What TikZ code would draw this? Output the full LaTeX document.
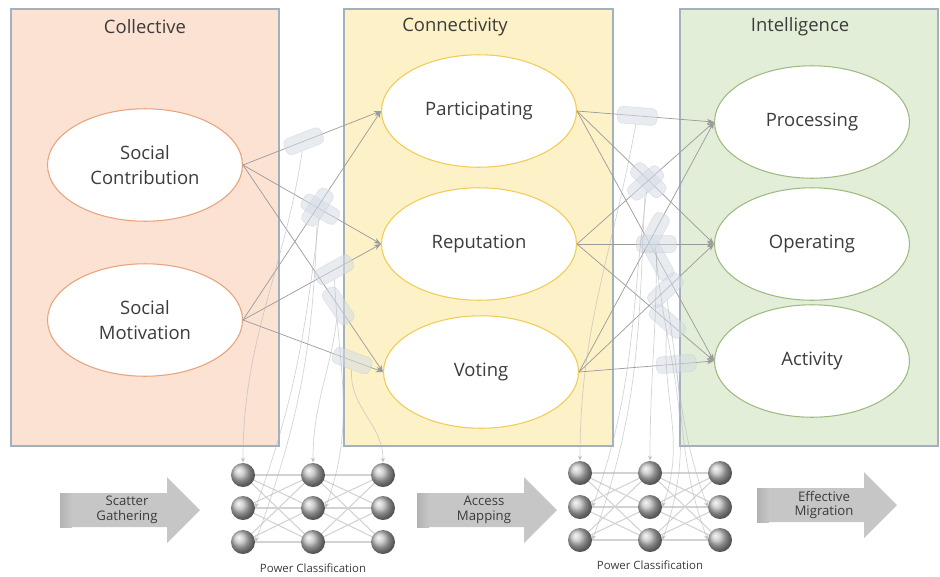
\documentclass[tikz,border=0pt]{standalone}
\usepackage{fontspec}
\setmainfont{Open Sans}
\usetikzlibrary{shapes.geometric,arrows.meta}

\definecolor{collfill}{HTML}{FBE2D3}
\definecolor{collline}{HTML}{E9A27A}
\definecolor{connfill}{HTML}{FDF1C7}
\definecolor{connline}{HTML}{F2CB55}
\definecolor{intfill}{HTML}{E2EED8}
\definecolor{intline}{HTML}{9DBB80}
\definecolor{boxline}{HTML}{A3B1BE}
\definecolor{linkgray}{HTML}{9A9A9A}
\definecolor{pillblue}{HTML}{D5DCE6}
\definecolor{flowgray}{HTML}{C6C6C6}
\definecolor{textgray}{HTML}{3C3C3C}

\begin{document}
\begin{tikzpicture}[x=0.02cm, y=-0.02cm, every node/.style={text=textgray}]
  \useasboundingbox (0,0) rectangle (940,576);
  \tikzset{
    group/.style={draw=boxline, line width=0.6pt},
    title/.style={font=\fontsize{10.5}{12}\selectfont},
    item/.style={ellipse, fill=white, line width=0.6pt, inner sep=0pt,
      minimum width=3.9cm, minimum height=2.25cm, align=center,
      font=\fontsize{10.5}{14}\selectfont},
    link/.style={draw=linkgray, line width=0.4pt, -{Stealth[length=4pt,width=3pt]}},
    pill/.style={rounded corners=3pt, fill=pillblue, fill opacity=0.55,
      draw=pillblue!70!gray, draw opacity=0.3, minimum width=0.8cm,
      minimum height=0.34cm, inner sep=0pt, sloped},
    drop/.style={draw=pillblue!60!gray, draw opacity=0.6, line width=0.4pt,
      -{Stealth[length=3pt,width=2.5pt]}},
    ball/.style={circle, shading=ball, ball color=gray!50, minimum size=0.48cm, inner sep=0pt},
    mesh/.style={draw=gray!35, line width=0.6pt},
    flowtext/.style={align=center, font=\fontsize{7.5}{8.5}\selectfont},
    caption/.style={font=\fontsize{6.5}{8}\selectfont}
  }

  % three groups
  \filldraw[group, fill=collfill] (11,9) rectangle (279,446);
  \filldraw[group, fill=connfill] (344,9) rectangle (613,446);
  \filldraw[group, fill=intfill] (680,9) rectangle (938,446);
  \node[title] (tcoll) at (145,27) {Collective};
  \node[title] (tconn) at (455,27) {Connectivity};
  \node[title] (tint) at (800,27) {Intelligence};

  \node[item, draw=collline] (sc) at (145,165) {Social\\Contribution};
  \node[item, draw=collline] (sm) at (145,320) {Social\\Motivation};
  \node[item, draw=connline] (pa) at (479,111) {Participating};
  \node[item, draw=connline] (re) at (479,244) {Reputation};
  \node[item, draw=connline] (vo) at (481,372) {Voting};
  \node[item, draw=intline] (pr) at (812,122) {Processing};
  \node[item, draw=intline] (op) at (812,244) {Operating};
  \node[item, draw=intline] (ac) at (812,361) {Activity};

  % connectors with their pills
  \foreach \s [count=\i] in {sc,sm}
    \foreach \t [count=\j] in {pa,re,vo} {
      \pgfmathsetmacro\where{0.22+0.12*\j+0.1*\i}
      \draw[link] (\s.east) -- node[pill, pos=\where] (p\i\j) {} (\t.west);
    }
  \foreach \s [count=\i] in {pa,re,vo}
    \foreach \t [count=\j] in {pr,op,ac} {
      \pgfmathsetmacro\where{0.3+0.08*\j+0.06*\i}
      \draw[link] (\s.east) -- node[pill, pos=\where] (q\i\j) {} (\t.west);
    }

  % two networks
  \foreach \c/\x in {1/243,2/313,3/383}
    \foreach \r/\y in {1/475,2/508,3/542}
      \node[ball] (a\r\c) at (\x,\y) {};
  \foreach \c/\x in {1/580,2/650,3/720}
    \foreach \r/\y in {1/473,2/507,3/540}
      \node[ball] (b\r\c) at (\x,\y) {};
  \foreach \c [evaluate=\c as \n using int(\c+1)] in {1,2}
    \foreach \r in {1,2,3}
      \foreach \rr in {1,2,3} {
        \draw[mesh] (a\r\c) -- (a\rr\n);
        \draw[mesh] (b\r\c) -- (b\rr\n);
      }
  \node[caption] (pc1) at (313,568) {Power Classification};
  \node[caption] (pc2) at (650,565) {Power Classification};

  % faint drops into the networks
  \draw[drop] (p11) to[out=-100,in=90] (a11.north);
  \draw[drop] (p12) to[out=-95,in=70] (a21.east);
  \draw[drop] (p21) to[out=-95,in=70] (a31.east);
  \draw[drop] (p13) to[out=-90,in=90] (a12.north);
  \draw[drop] (p22) to[out=-90,in=70] (a22.east);
  \draw[drop] (p23) to[out=-90,in=90] (a13.north);
  \draw[drop] (q11) to[out=-100,in=90] (b11.north);
  \draw[drop] (q12) to[out=-95,in=70] (b21.east);
  \draw[drop] (q21) to[out=-95,in=70] (b31.east);
  \draw[drop] (q22) to[out=-90,in=90] (b12.north);
  \draw[drop] (q23) to[out=-90,in=70] (b22.east);
  \draw[drop] (q31) to[out=-90,in=70] (b32.east);
  \draw[drop] (q32) to[out=-85,in=110] (b23.west);
  \draw[drop] (q33) to[out=-85,in=110] (b33.west);

  % flow arrows
  \foreach \x/\y/\name/\txt in {60/510/sg/{Scatter\\Gathering}, 417/510/am/{Access\\Mapping},
      757/505/em/{Effective\\Migration}} {
    \fill[flowgray] (\x,\y-17) -- (\x+107,\y-17) -- (\x+107,\y-33) -- (\x+140,\y)
      -- (\x+107,\y+33) -- (\x+107,\y+17) -- (\x,\y+17) -- cycle;
    \shade[left color=gray!60, right color=flowgray] (\x,\y-17) rectangle (\x+12,\y+17);
    \node[flowtext] (\name) at (\x+67,\y) {\txt};
  }
\end{tikzpicture}
\end{document}
